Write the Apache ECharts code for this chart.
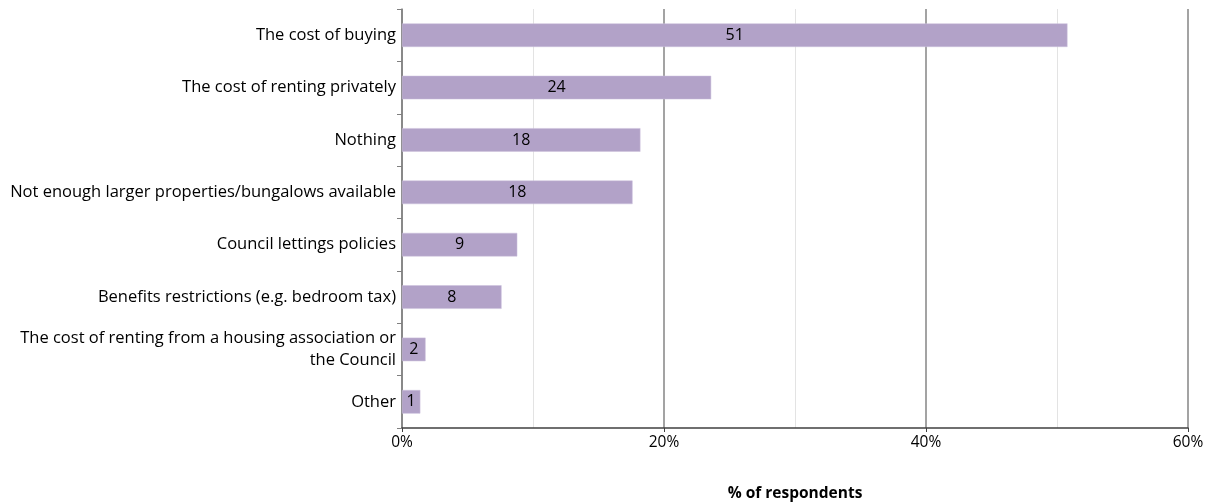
<!DOCTYPE html>
<html>
<head>
<meta charset="utf-8">
<script src="https://cdn.jsdelivr.net/npm/echarts@6/dist/echarts.min.js"></script>
<style>
  html, body { margin: 0; padding: 0; background: #fff; }
  #chart { width: 1211px; height: 504px; }
</style>
</head>
<body>
<div id="chart"></div>
<script>
// Reasons preventing a move, share of respondents (%)
const categories = [
  'The cost of buying',
  'The cost of renting privately',
  'Nothing',
  'Not enough larger properties/bungalows available',
  'Council lettings policies',
  'Benefits restrictions (e.g. bedroom tax)',
  'The cost of renting from a housing association or\nthe Council',
  'Other'
];
const values = [50.8, 23.6, 18.2, 17.6, 8.8, 7.6, 1.8, 1.4];
const xTicks = [0, 20, 40, 60];

const FONT = '"Open Sans", "Noto Sans", sans-serif';

const chart = echarts.init(document.getElementById('chart'), null, { renderer: 'canvas' });

chart.setOption({
  animation: false,
  backgroundColor: '#ffffff',
  grid: { left: 402, right: 23, top: 9, bottom: 76, containLabel: false, outerBoundsMode: 'none' },
  xAxis: {
    type: 'value',
    min: xTicks[0],
    max: xTicks[xTicks.length - 1],
    interval: xTicks[1] - xTicks[0],
    name: '% of respondents',
    nameLocation: 'middle',
    nameGap: 58,
    nameTextStyle: { fontFamily: FONT, fontSize: 15.5, fontWeight: 'bold', color: '#000' },
    axisLine: { show: true, lineStyle: { color: '#404040', width: 1.5 } },
    axisTick: { show: true, length: 4, lineStyle: { color: '#404040' } },
    axisLabel: {
      fontFamily: FONT, fontSize: 15.5, color: '#000', margin: 7,
      formatter: v => v + '%'
    },
    splitLine: { show: true, lineStyle: { color: '#858585', width: 1.5 } },
    minorTick: { show: false, splitNumber: 2 },
    minorSplitLine: { show: true, lineStyle: { color: '#e3e3e3', width: 1 } }
  },
  yAxis: {
    type: 'category',
    data: categories,
    inverse: true,
    axisLine: { show: true, lineStyle: { color: '#808080', width: 1.5 } },
    axisTick: { show: true, length: 5, inside: false, lineStyle: { color: '#808080' } },
    axisLabel: {
      fontFamily: FONT, fontSize: 16.5, color: '#000', margin: 6,
      align: 'right', lineHeight: 22
    },
    splitLine: { show: false }
  },
  series: [{
    type: 'bar',
    data: values,
    barCategoryGap: '55%',
    itemStyle: { color: '#b2a2c8', borderColor: '#cdc1dc', borderWidth: 0.5 },
    label: {
      show: true,
      position: 'inside',
      fontFamily: FONT,
      fontSize: 16,
      color: '#000',
      formatter: p => Math.round(p.value)
    }
  }]
});
</script>
</body>
</html>
